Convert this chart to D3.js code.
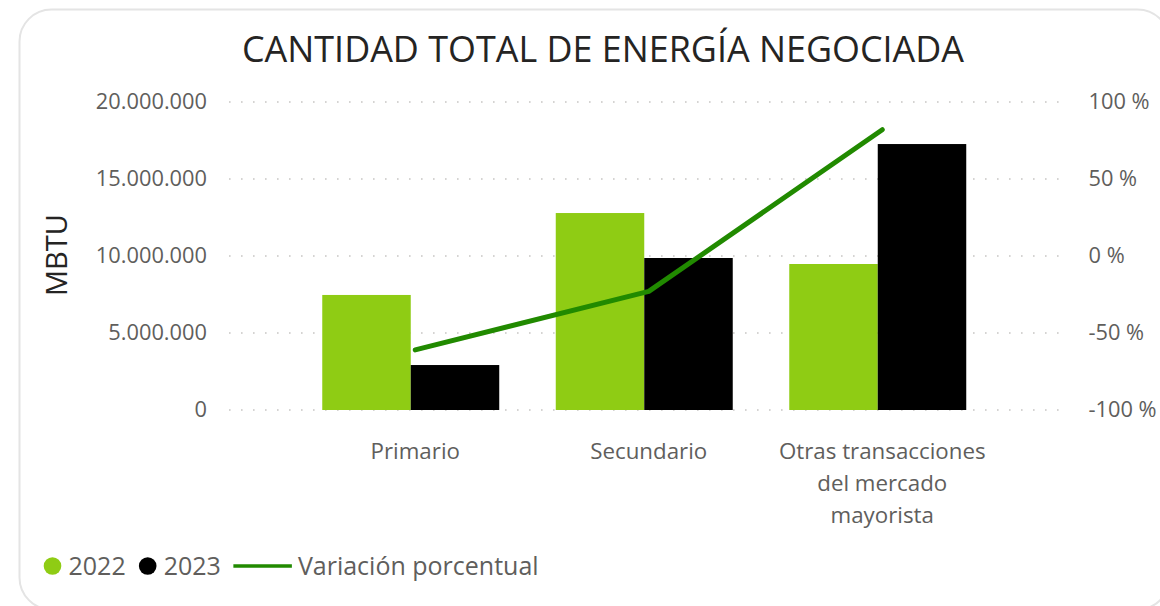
<!DOCTYPE html>
<html>
<head>
<meta charset="utf-8">
<script src="https://cdn.jsdelivr.net/npm/d3@7"></script>
<style>
  html, body { margin: 0; padding: 0; background: #fff; }
  svg { display: block; font-family: "Segoe UI", "Open Sans", sans-serif; }
</style>
</head>
<body>
<svg id="chart" width="1160" height="606"></svg>
<script>
// ─────────────────────────────────────────────
// data
// ─────────────────────────────────────────────
const categories = ['Primario', 'Secundario', 'Otras transacciones del mercado mayorista'];
const series     = ['2022', '2023'];
const values2022 = [7470000, 12790000, 9480000];
const values2023 = [2920000, 9870000, 17270000];
const variation  = [-0.61, -0.23, 0.82];   // variación porcentual
const leftTicks  = [0, 5000000, 10000000, 15000000, 20000000];
const rightTicks = [-1, -0.5, 0, 0.5, 1];

const GREEN = '#8fcc14', BLACK = '#000000', LINE = '#218a00';
const GRID = '#c8c6c4', TICK_TXT = '#605e5c';

// ─────────────────────────────────────────────
// scales
// ─────────────────────────────────────────────
const svg = d3.select('#chart');
const plotTop = 102, plotBottom = 410;

const x = d3.scaleBand().domain(categories).range([294, 994.5])
  .paddingInner(0.242).paddingOuter(0.121);
const xSub = d3.scaleBand().domain(series).range([0, x.bandwidth()]);
const yL = d3.scaleLinear().domain([0, 20000000]).range([plotBottom, plotTop]);
const yR = d3.scaleLinear().domain([-1, 1]).range([plotBottom, plotTop]);
const color = d3.scaleOrdinal().domain(series).range([GREEN, BLACK]);
const shift = 4.5; // line + labels sit slightly right of the bar pair centre
const cx = c => x(c) + x.bandwidth() / 2 + shift;

const locale = d3.formatLocale({ decimal: ',', thousands: '.', grouping: [3], currency: ['', ''] });
const fmt = locale.format(',.0f');

// card
svg.append('rect')
  .attr('x', 19.5).attr('y', 9.5).attr('width', 1150).attr('height', 600)
  .attr('rx', 32).attr('fill', '#fff').attr('stroke', '#e4e4e4').attr('stroke-width', 2);

// title
svg.append('text')
  .attr('x', 603).attr('y', 62).attr('text-anchor', 'middle')
  .attr('font-size', 35.9).attr('fill', '#252423')
  .text('CANTIDAD TOTAL DE ENERGÍA NEGOCIADA');

// ─────────────────────────────────────────────
// grid + axes
// ─────────────────────────────────────────────
svg.append('g').selectAll('line').data(leftTicks).join('line')
  .attr('x1', 229).attr('x2', 1068)
  .attr('y1', d => yL(d)).attr('y2', d => yL(d))
  .attr('stroke', GRID).attr('stroke-width', 1.6)
  .attr('stroke-dasharray', '1.6,10.4');

const axL = svg.append('g').attr('transform', 'translate(207,0)')
  .call(d3.axisLeft(yL).tickValues(leftTicks).tickFormat(fmt).tickSize(0).tickPadding(0));
axL.select('.domain').remove();
axL.selectAll('text').attr('font-size', 21.8).attr('fill', TICK_TXT)
  .attr('font-family', '"Segoe UI", "Open Sans", sans-serif');

const axR = svg.append('g').attr('transform', 'translate(1088.5,0)')
  .call(d3.axisRight(yR).tickValues(rightTicks).tickFormat(d => Math.round(d * 100) + ' %').tickSize(0).tickPadding(0));
axR.select('.domain').remove();
axR.selectAll('text').attr('font-size', 21.8).attr('fill', TICK_TXT)
  .attr('font-family', '"Segoe UI", "Open Sans", sans-serif');

svg.append('text')
  .attr('transform', 'translate(67,255) rotate(-90)')
  .attr('text-anchor', 'middle').attr('font-size', 29).attr('fill', '#252423')
  .text('MBTU');

// category labels (wrapped to band step)
const labels = svg.append('g').selectAll('text').data(categories).join('text')
  .attr('x', d => cx(d)).attr('y', 459).attr('text-anchor', 'middle')
  .attr('font-size', 22.3).attr('fill', TICK_TXT);
labels.each(function(d) {
  const t = d3.select(this);
  const words = d.split(' ');
  let line = [];
  let ts = t.append('tspan').attr('x', cx(d)).attr('dy', 0);
  words.forEach(w => {
    line.push(w);
    ts.text(line.join(' '));
    if (ts.node().getComputedTextLength() > x.step() - 20 && line.length > 1) {
      line.pop();
      ts.text(line.join(' '));
      line = [w];
      ts = t.append('tspan').attr('x', cx(d)).attr('dy', 32).text(w);
    }
  });
});

// ─────────────────────────────────────────────
// bars
// ─────────────────────────────────────────────
const rows = categories.map((c, i) => ({ cat: c, vals: [values2022[i], values2023[i]] }));
svg.append('g').selectAll('g').data(rows).join('g')
  .attr('transform', d => `translate(${x(d.cat)},0)`)
  .selectAll('rect').data(d => d.vals.map((v, j) => ({ s: series[j], v })))
  .join('rect')
  .attr('x', d => xSub(d.s)).attr('width', xSub.bandwidth())
  .attr('y', d => yL(d.v)).attr('height', d => plotBottom - yL(d.v))
  .attr('fill', d => color(d.s));

// ─────────────────────────────────────────────
// variation line
// ─────────────────────────────────────────────
const line = d3.line().x((d, i) => cx(categories[i])).y(d => yR(d));
svg.append('path').datum(variation)
  .attr('d', line).attr('fill', 'none')
  .attr('stroke', LINE).attr('stroke-width', 5)
  .attr('stroke-linecap', 'round').attr('stroke-linejoin', 'round');

// ─────────────────────────────────────────────
// legend
// ─────────────────────────────────────────────
const leg = svg.append('g').attr('font-size', 25).attr('fill', TICK_TXT);
let lx = 52.5; // centre of first marker
series.forEach(s => {
  leg.append('circle').attr('cx', lx).attr('cy', 566).attr('r', 8.8).attr('fill', color(s));
  const t = leg.append('text').attr('x', lx + 16).attr('y', 575).text(s);
  lx += 16 + t.node().getComputedTextLength() + 22;
});
lx -= 22;
leg.append('line').attr('x1', lx + 12.5).attr('x2', lx + 71).attr('y1', 566).attr('y2', 566)
  .attr('stroke', LINE).attr('stroke-width', 3.6);
leg.append('text').attr('x', lx + 77).attr('y', 575).text('Variación porcentual');
</script>
</body>
</html>
